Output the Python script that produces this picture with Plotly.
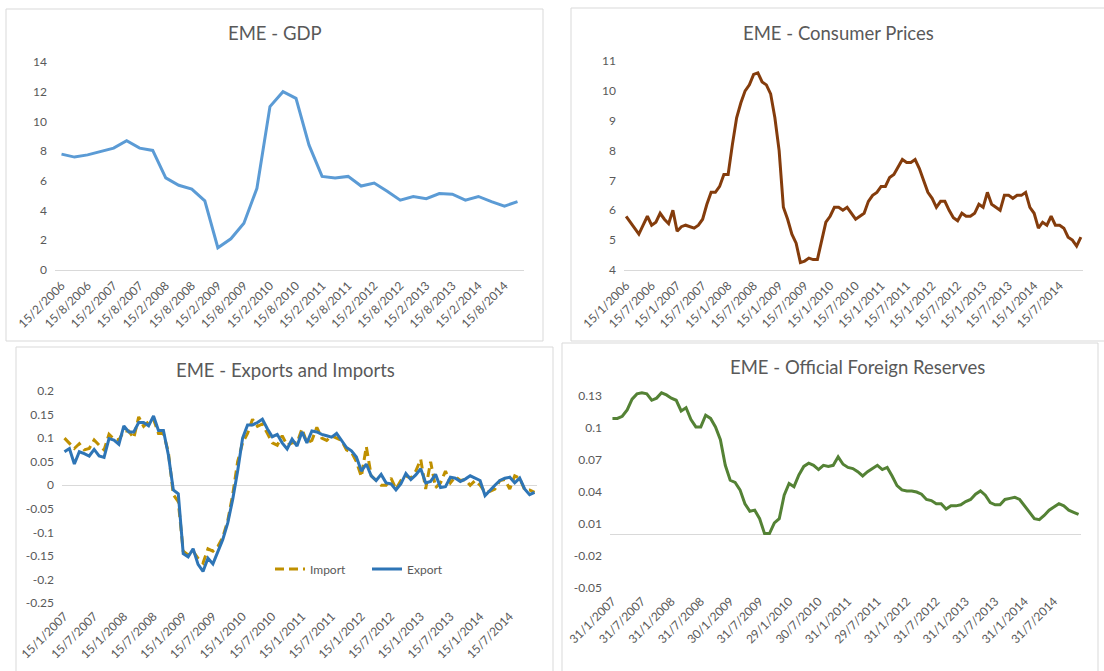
import plotly.graph_objects as go

W, H = 1104, 671
FONT = "Lato"
TXT = "#595959"
AXC = "#D9D9D9"

# ---------------- data ----------------
gdp_labels = ["15/2/2006", "15/8/2006", "15/2/2007", "15/8/2007", "15/2/2008", "15/8/2008",
              "15/2/2009", "15/8/2009", "15/2/2010", "15/8/2010", "15/2/2011", "15/8/2011",
              "15/2/2012", "15/8/2012", "15/2/2013", "15/8/2013", "15/2/2014", "15/8/2014"]
gdp = [7.8, 7.6, 7.75, 7.95, 8.2, 8.7, 8.2, 8.05, 6.2, 5.7, 5.45, 4.65,
       1.5, 2.1, 3.15, 5.5, 11.0, 12.0, 11.55, 8.4, 6.3, 6.2, 6.3, 5.65,
       5.85, 5.3, 4.7, 4.95, 4.8, 5.15, 5.1, 4.7, 4.95, 4.6, 4.3, 4.6]

cpi_labels = ["15/1/2006", "15/7/2006", "15/1/2007", "15/7/2007", "15/1/2008", "15/7/2008",
              "15/1/2009", "15/7/2009", "15/1/2010", "15/7/2010", "15/1/2011", "15/7/2011",
              "15/1/2012", "15/7/2012", "15/1/2013", "15/7/2013", "15/1/2014", "15/7/2014"]
cpi = [5.8, 5.6, 5.4, 5.2, 5.5, 5.8, 5.5, 5.6, 5.9, 5.7, 5.55, 6.0,
       5.3, 5.45, 5.5, 5.45, 5.4, 5.5, 5.7, 6.2, 6.6, 6.6, 6.8, 7.2,
       7.2, 8.2, 9.1, 9.6, 10.0, 10.2, 10.55, 10.6, 10.3, 10.2, 9.9, 9.1,
       8.0, 6.1, 5.7, 5.2, 4.9, 4.25, 4.3, 4.4, 4.35, 4.35, 5.0, 5.6,
       5.8, 6.1, 6.1, 6.0, 6.1, 5.9, 5.7, 5.8, 5.9, 6.3, 6.5, 6.6,
       6.8, 6.8, 7.1, 7.2, 7.45, 7.7, 7.6, 7.6, 7.7, 7.4, 7.0, 6.6,
       6.4, 6.1, 6.3, 6.3, 6.0, 5.75, 5.65, 5.9, 5.8, 5.8, 5.9, 6.2,
       6.1, 6.6, 6.2, 6.1, 6.0, 6.5, 6.5, 6.4, 6.5, 6.5, 6.6, 6.1,
       5.9, 5.4, 5.6, 5.5, 5.8, 5.5, 5.5, 5.4, 5.1, 5.0, 4.8, 5.1]

trade_labels = ["15/1/2007", "15/7/2007", "15/1/2008", "15/7/2008", "15/1/2009", "15/7/2009",
                "15/1/2010", "15/7/2010", "15/1/2011", "15/7/2011", "15/1/2012", "15/7/2012",
                "15/1/2013", "15/7/2013", "15/1/2014", "15/7/2014"]
imports = [0.1, 0.09, 0.078, 0.088, 0.075, 0.078, 0.096, 0.085, 0.075, 0.108, 0.098, 0.096,
           0.115, 0.115, 0.1, 0.145, 0.125, 0.135, 0.14, 0.11, 0.11, 0.07, -0.02, -0.035,
           -0.14, -0.148, -0.14, -0.155, -0.165, -0.135, -0.14, -0.13, -0.11, -0.075, -0.02, 0.05,
           0.09, 0.11, 0.14, 0.125, 0.13, 0.11, 0.09, 0.085, 0.105, 0.085, 0.09, 0.09,
           0.12, 0.09, 0.095, 0.123, 0.1, 0.095, 0.105, 0.1, 0.095, 0.075, 0.07, 0.05,
           0.018, 0.082, 0.02, 0.01, 0.0, 0.0, 0.015, -0.008, 0.01, 0.02, 0.015, 0.03,
           0.055, -0.008, 0.05, -0.005, 0.005, 0.03, 0.005, 0.018, 0.01, 0.012, 0.0, 0.01,
           0.0, -0.015, -0.013, -0.008, 0.01, 0.012, -0.008, 0.02, 0.015, -0.01, -0.01, -0.015]
exports = [0.071, 0.078, 0.045, 0.071, 0.067, 0.062, 0.076, 0.062, 0.059, 0.099, 0.096, 0.087,
           0.126, 0.113, 0.113, 0.133, 0.133, 0.126, 0.147, 0.116, 0.116, 0.064, -0.01, -0.018,
           -0.145, -0.152, -0.135, -0.168, -0.183, -0.155, -0.167, -0.14, -0.115, -0.08, -0.03, 0.03,
           0.1, 0.128, 0.128, 0.133, 0.14, 0.12, 0.103, 0.108, 0.09, 0.077, 0.098, 0.083,
           0.113, 0.09, 0.115, 0.113, 0.108, 0.105, 0.102, 0.11, 0.095, 0.08, 0.073, 0.06,
           0.03, 0.045, 0.02, 0.01, 0.023, 0.005, 0.003, -0.01, 0.003, 0.025, 0.012, 0.022,
           0.035, 0.005, 0.008, 0.023, -0.005, -0.003, 0.017, 0.015, 0.008, 0.013, 0.02, 0.015,
           0.01, -0.022, -0.01, 0.0, 0.01, 0.015, 0.017, 0.005, 0.015, -0.008, -0.02, -0.015]

res_labels = ["31/1/2007", "31/7/2007", "31/1/2008", "31/7/2008", "30/1/2009", "31/7/2009",
              "29/1/2010", "30/7/2010", "31/1/2011", "29/7/2011", "31/1/2012", "31/7/2012",
              "31/1/2013", "31/7/2013", "31/1/2014", "31/7/2014"]
reserves = [0.109, 0.109, 0.111, 0.117, 0.127, 0.132, 0.133, 0.132, 0.126, 0.128, 0.133, 0.131,
            0.128, 0.126, 0.116, 0.119, 0.108, 0.101, 0.101, 0.112, 0.109, 0.101, 0.089, 0.065,
            0.051, 0.049, 0.042, 0.029, 0.022, 0.023, 0.015, 0.001, 0.001, 0.011, 0.015, 0.037,
            0.048, 0.045, 0.056, 0.064, 0.067, 0.065, 0.061, 0.065, 0.064, 0.065, 0.073, 0.066,
            0.063, 0.062, 0.059, 0.055, 0.059, 0.062, 0.065, 0.061, 0.063, 0.055, 0.046, 0.042,
            0.041, 0.041, 0.040, 0.038, 0.033, 0.032, 0.029, 0.029, 0.024, 0.027, 0.027, 0.028,
            0.031, 0.033, 0.038, 0.041, 0.037, 0.030, 0.028, 0.028, 0.033, 0.034, 0.035, 0.033,
            0.027, 0.020, 0.015, 0.014, 0.018, 0.023, 0.026, 0.029, 0.027, 0.023, 0.021, 0.019]

trade_ticks = [-0.25, -0.2, -0.15, -0.1, -0.05, 0, 0.05, 0.1, 0.15, 0.2]
trade_ticktext = ["-0.25", "-0.2", "-0.15", "-0.1", "-0.05", "0", "0.05", "0.1", "0.15", "0.2"]
res_ticks = [-0.05, -0.02, 0.01, 0.04, 0.07, 0.1, 0.13]
res_ticktext = ["-0.05", "-0.02", "0.01", "0.04", "0.07", "0.1", "0.13"]


def X(px):
    return px / W


def Y(py):
    return 1 - py / H


fig = go.Figure()

fig.add_trace(go.Scatter(x=list(range(len(gdp))), y=gdp, mode="lines", xaxis="x", yaxis="y",
                         line=dict(color="#5B9BD5", width=3), showlegend=False))
fig.add_trace(go.Scatter(x=list(range(len(cpi))), y=cpi, mode="lines", xaxis="x2", yaxis="y2",
                         line=dict(color="#843C0C", width=3), showlegend=False))
fig.add_trace(go.Scatter(x=list(range(len(imports))), y=imports, mode="lines", name="Import",
                         xaxis="x3", yaxis="y3",
                         line=dict(color="#BF9000", width=3, dash="9px,5px")))
fig.add_trace(go.Scatter(x=list(range(len(exports))), y=exports, mode="lines", name="Export",
                         xaxis="x3", yaxis="y3",
                         line=dict(color="#2E75B6", width=3)))
fig.add_trace(go.Scatter(x=list(range(len(reserves))), y=reserves, mode="lines", xaxis="x4", yaxis="y4",
                         line=dict(color="#548235", width=3), showlegend=False))


def xax(x0, x1, n, labels, anchor, showline=False):
    step = 6 if n > 40 else 2
    return dict(domain=[X(x0), X(x1)], anchor=anchor, range=[-0.5, n - 0.5], automargin=False,
                tickmode="array", tickvals=list(range(0, n, step))[:len(labels)],
                ticktext=labels, tickangle=-45, showgrid=False, zeroline=False,
                showline=showline, linecolor=AXC, linewidth=1, ticks="",
                ticklabelstandoff=3,
                tickfont=dict(family=FONT, size=12, color=TXT), fixedrange=True)


def yax(top, bottom, rng, anchor, tickvals=None, ticktext=None, dtick=None, zeroline=False):
    d = dict(domain=[Y(bottom), Y(top)], anchor=anchor, range=rng, showgrid=False, automargin=False,
             zeroline=zeroline, zerolinecolor=AXC, zerolinewidth=1, showline=False, ticks="",
             ticklabelstandoff=7,
             tickfont=dict(family=FONT, size=12, color=TXT), fixedrange=True)
    if tickvals is not None:
        d.update(tickmode="array", tickvals=tickvals, ticktext=ticktext)
    else:
        d.update(dtick=dtick)
    return d


# reserves axis: -0.05 at y=588, 0.13 at y=396; extend range a little above so the peak is not clipped
res_top = 0.137
res_top_px = 588 - (res_top + 0.05) * (588 - 396) / 0.18

fig.update_layout(
    width=W, height=H, margin=dict(l=0, r=0, t=0, b=0, autoexpand=False),
    paper_bgcolor="white", plot_bgcolor="white",
    xaxis=xax(55, 524, len(gdp), gdp_labels, "y", showline=True),
    yaxis=yax(62, 270, [0, 14], "x", dtick=2),
    xaxis2=xax(624, 1083, len(cpi), cpi_labels, "y2", showline=True),
    yaxis2=yax(61, 270, [4, 11], "x2", dtick=1),
    xaxis3=xax(62, 537, len(exports), trade_labels, "y3"),
    yaxis3=yax(391, 603, [-0.25, 0.2], "x3", trade_ticks, trade_ticktext, zeroline=True),
    xaxis4=xax(610, 1081, len(reserves), res_labels, "y4"),
    yaxis4=yax(res_top_px, 588, [-0.05, res_top], "x4", res_ticks, res_ticktext, zeroline=True),
    legend=dict(orientation="h", x=X(270), y=Y(569), xanchor="left", yanchor="middle",
                bgcolor="rgba(0,0,0,0)", font=dict(family=FONT, size=12, color=TXT),
                entrywidth=52, entrywidthmode="pixels", tracegroupgap=0),
)

# panel borders
for (x0, y0, x1, y1) in [(6, 9, 543, 341), (571, 8, 1110, 341), (16, 347, 553, 680), (562, 343, 1098, 680)]:
    fig.add_shape(type="rect", xref="paper", yref="paper", x0=X(x0), x1=X(x1), y0=Y(y0), y1=Y(y1),
                  line=dict(color=AXC, width=1), fillcolor="rgba(0,0,0,0)", layer="below")

titles = [("EME - GDP", 275, 33), ("EME - Consumer Prices", 838, 33),
          ("EME - Exports and Imports", 285, 370), ("EME - Official Foreign Reserves", 857, 367)]
for t, cx, cy in titles:
    fig.add_annotation(text=t, xref="paper", yref="paper", x=X(cx), y=Y(cy), showarrow=False,
                       xanchor="center", yanchor="middle",
                       font=dict(family=FONT, size=18.5, color=TXT))

fig.write_html("out.html", config={"displayModeBar": False},
               post_script="document.body.style.margin='0';")
